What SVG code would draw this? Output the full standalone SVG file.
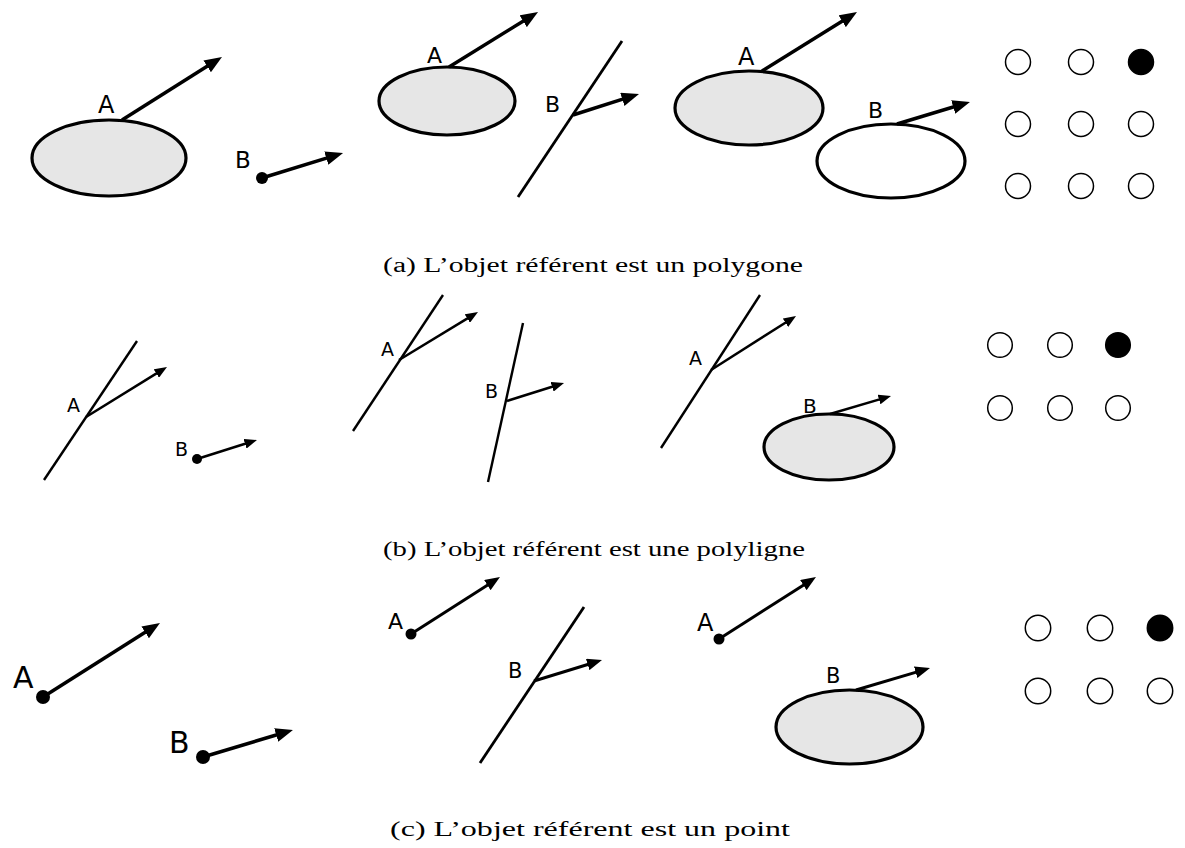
<svg xmlns="http://www.w3.org/2000/svg" width="1185" height="848" viewBox="0 0 1185 848">
<style>
.bg{fill:#ffffff}
.shape{fill:#e6e6e6;stroke:#000;stroke-width:3.2}
.empty{fill:#ffffff;stroke:#000;stroke-width:3.2}
.seg{fill:none;stroke:#000;stroke-width:2.8;stroke-linecap:butt}
.segb{fill:none;stroke:#000;stroke-width:2.4}
.arr{fill:none;stroke:#000;stroke-width:3.5}
.arrb{fill:none;stroke:#000;stroke-width:2.5}
.arrc{fill:none;stroke:#000;stroke-width:3}
.pt{fill:#000}
.cell{fill:#fff;stroke:#000;stroke-width:1.5}
.on{fill:#000;stroke:#000;stroke-width:1.5}
.lbl{font-family:"DejaVu Sans",sans-serif;fill:#000}
.cap{font-family:"Liberation Serif",serif;font-size:20px;fill:#000}
</style>
<defs>
<marker id="head" viewBox="0 0 10 8" refX="4" refY="4" markerWidth="5" markerHeight="4" markerUnits="strokeWidth" orient="auto">
<path d="M0,0 L10,4 L0,8 Z" fill="#000"/>
</marker>
</defs>
<rect class="bg" x="0" y="0" width="1185" height="848"/>

<!-- Panel (a) -->
<g id="a1-polyA"><ellipse class="shape" cx="109" cy="158" rx="77" ry="38"/><text class="lbl" x="98" y="113" font-size="24">A</text></g>
<g id="a1-pointB"><circle class="pt" cx="262" cy="178" r="6"/><text class="lbl" x="235" y="168" font-size="23">B</text></g>
<g id="a2-polyA"><ellipse class="shape" cx="447" cy="101" rx="68" ry="34"/><text class="lbl" x="427" y="63" font-size="22">A</text></g>
<g id="a2-lineB"><line class="seg" x1="518" y1="197" x2="622" y2="41"/><text class="lbl" x="545" y="112" font-size="22">B</text></g>
<g id="a3-polyA"><ellipse class="shape" cx="749" cy="108" rx="74" ry="37"/><text class="lbl" x="738" y="65" font-size="24">A</text></g>
<g id="a3-polyB"><ellipse class="empty" cx="891" cy="161" rx="74" ry="37"/><text class="lbl" x="868" y="118" font-size="22">B</text></g>
<g id="a-grid">
<circle class="cell" cx="1018" cy="62" r="12.5"/><circle class="cell" cx="1081" cy="62" r="12.5"/><circle class="on" cx="1141" cy="62" r="12.5"/>
<circle class="cell" cx="1018" cy="124" r="12.5"/><circle class="cell" cx="1081" cy="124" r="12.5"/><circle class="cell" cx="1141" cy="124" r="12.5"/>
<circle class="cell" cx="1018" cy="186" r="12.5"/><circle class="cell" cx="1081" cy="186" r="12.5"/><circle class="cell" cx="1141" cy="186" r="12.5"/>
</g>
<text id="cap-a" class="cap" x="383" y="272" textLength="420" lengthAdjust="spacingAndGlyphs">(a) L’objet référent est un polygone</text>

<!-- Panel (b) -->
<g id="b1-lineA"><line class="segb" x1="44" y1="480" x2="137" y2="341"/><text class="lbl" x="67" y="412" font-size="19">A</text></g>
<g id="b1-pointB"><circle class="pt" cx="197" cy="459" r="5"/><text class="lbl" x="175" y="456" font-size="19">B</text></g>
<g id="b2-lineA"><line class="segb" x1="353" y1="431" x2="443" y2="295"/><text class="lbl" x="381" y="356" font-size="19">A</text></g>
<g id="b2-lineB"><line class="segb" x1="488" y1="482" x2="523" y2="323"/><text class="lbl" x="485" y="398" font-size="19">B</text></g>
<g id="b3-lineA"><line class="segb" x1="661" y1="448" x2="760" y2="295"/><text class="lbl" x="689" y="365" font-size="19">A</text></g>
<g id="b3-polyB"><ellipse class="shape" cx="829" cy="447" rx="65" ry="33"/><text class="lbl" x="803" y="413" font-size="20">B</text></g>
<g id="b-grid">
<circle class="cell" cx="1000" cy="345" r="12.3"/><circle class="cell" cx="1060" cy="345" r="12.3"/><circle class="on" cx="1118" cy="345" r="12.3"/>
<circle class="cell" cx="1000" cy="408" r="12.3"/><circle class="cell" cx="1060" cy="408" r="12.3"/><circle class="cell" cx="1118" cy="408" r="12.3"/>
</g>
<text id="cap-b" class="cap" x="383" y="556" textLength="422" lengthAdjust="spacingAndGlyphs">(b) L’objet référent est une polyligne</text>

<!-- Panel (c) -->
<g id="c1-pointA"><circle class="pt" cx="43" cy="697" r="7"/><text class="lbl" x="13" y="688" font-size="30">A</text></g>
<g id="c1-pointB"><circle class="pt" cx="203" cy="757" r="7"/><text class="lbl" x="169" y="753" font-size="30">B</text></g>
<g id="c2-pointA"><circle class="pt" cx="411" cy="634" r="5.5"/><text class="lbl" x="388" y="629" font-size="22">A</text></g>
<g id="c2-lineB"><line class="seg" x1="480" y1="763" x2="584" y2="607"/><text class="lbl" x="508" y="678" font-size="21">B</text></g>
<g id="c3-pointA"><circle class="pt" cx="719" cy="639" r="5.5"/><text class="lbl" x="697" y="631" font-size="24">A</text></g>
<g id="c3-polyB"><ellipse class="shape" cx="849.5" cy="727" rx="73.5" ry="37"/><text class="lbl" x="826" y="683" font-size="21">B</text></g>
<g id="c-grid">
<circle class="cell" cx="1038" cy="628" r="12.7"/><circle class="cell" cx="1100" cy="628" r="12.7"/><circle class="on" cx="1160" cy="628" r="12.7"/>
<circle class="cell" cx="1038" cy="691" r="12.7"/><circle class="cell" cx="1100" cy="691" r="12.7"/><circle class="cell" cx="1160" cy="691" r="12.7"/>
</g>
<text id="cap-c" class="cap" x="390" y="836" textLength="400" lengthAdjust="spacingAndGlyphs">(c) L’objet référent est un point</text>

<!-- Connectors (direction vectors) -->
<g id="connectors">
<line class="arr" x1="122" y1="120" x2="213.1" y2="62.6" marker-end="url(#head)"/>
<line class="arr" x1="262" y1="178" x2="333.0" y2="156.1" marker-end="url(#head)"/>
<line class="arr" x1="449" y1="67" x2="529.1" y2="17.5" marker-end="url(#head)"/>
<line class="arr" x1="573" y1="115" x2="629.0" y2="97.2" marker-end="url(#head)"/>
<line class="arr" x1="762" y1="71" x2="848.1" y2="17.5" marker-end="url(#head)"/>
<line class="arr" x1="897" y1="124" x2="959.9" y2="105.0" marker-end="url(#head)"/>

<line class="arrb" x1="86" y1="417" x2="160.6" y2="370.9" marker-end="url(#head)"/>
<line class="arrb" x1="197" y1="459" x2="249.8" y2="442.3" marker-end="url(#head)"/>
<line class="arrb" x1="399" y1="360" x2="471.6" y2="315.9" marker-end="url(#head)"/>
<line class="arrb" x1="507" y1="401" x2="556.9" y2="385.3" marker-end="url(#head)"/>
<line class="arrb" x1="711" y1="370" x2="789.7" y2="320.0" marker-end="url(#head)"/>
<line class="arrb" x1="830" y1="414" x2="883.8" y2="398.1" marker-end="url(#head)"/>

<line class="arr" x1="43" y1="697" x2="151.1" y2="628.6" marker-end="url(#head)"/>
<line class="arr" x1="203" y1="757" x2="282.9" y2="733.0" marker-end="url(#head)"/>
<line class="arrc" x1="411" y1="634" x2="492.4" y2="581.9" marker-end="url(#head)"/>
<line class="arrc" x1="534" y1="681" x2="593.4" y2="662.7" marker-end="url(#head)"/>
<line class="arrc" x1="719" y1="639" x2="808.4" y2="581.9" marker-end="url(#head)"/>
<line class="arrc" x1="856" y1="690" x2="921.4" y2="670.6" marker-end="url(#head)"/>
</g>
</svg>
